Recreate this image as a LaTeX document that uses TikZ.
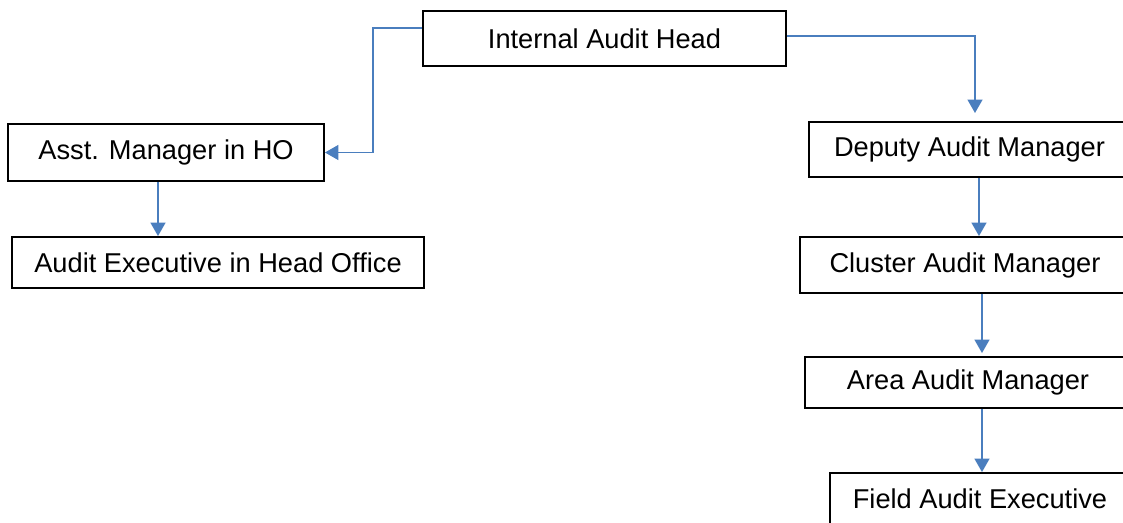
\documentclass[tikz,border=0pt]{standalone}
\usepackage{fontspec}
\setmainfont{Liberation Sans}
\usetikzlibrary{arrows.meta,positioning}
\definecolor{linkblue}{RGB}{74,126,190}

\begin{document}
\begin{tikzpicture}[x=0.02cm,y=-0.02cm,
  box/.style={draw=black,line width=1.1pt,inner sep=0pt,
    font=\fontsize{15.5}{18}\selectfont},
  link/.style={draw=linkblue,line width=0.9pt,
    -{Triangle[length=0.27cm,width=0.3cm]}}]
  \clip (0,0) rectangle (1123,522);
  % left branch
  \node[box,minimum width=7.26cm,minimum height=1.1cm] (head) at (604.5,38.5) {Internal Audit Head};
  \node[box,minimum width=6.32cm,minimum height=1.14cm] (asst) at (166,152.5) {Asst. Manager in HO};
  \node[box,minimum width=8.24cm,minimum height=1.02cm] (aexec) at (218,262.5) {Audit Executive in Head Office};
  % right branch
  \node[box,minimum width=6.42cm,minimum height=1.1cm] (deputy) at (969.5,149.5) {Deputy Audit Manager};
  \node[box,minimum width=6.6cm,minimum height=1.12cm] (cluster) at (965,265) {Cluster Audit Manager};
  \node[box,minimum width=6.52cm,minimum height=1.02cm] (area) at (968,382.5) {Area Audit Manager};
  \node[box,minimum width=6cm,minimum height=1.02cm] (field) at (980,498.5) {Field Audit Executive};

  \coordinate (lbend) at (373,152.5);
  \coordinate (rbend) at (975,113);

  \draw[link] ([yshift=0.21cm]head.west) -| (lbend) -- (asst.east);
  \draw[link] ([yshift=0.05cm]head.east) -| (rbend);
  \draw[link] ([xshift=-0.16cm]asst.south) -- ([xshift=-0.16cm]asst.south |- aexec.north);
  \draw[link] ([xshift=0.19cm]deputy.south) -- ([xshift=0.19cm]deputy.south |- cluster.north);
  \draw[link,shorten >=0.06cm] ([xshift=0.34cm]cluster.south) -- ([xshift=0.34cm]cluster.south |- area.north);
  \draw[link] ([xshift=0.28cm]area.south) -- ([xshift=0.28cm]area.south |- field.north);
\end{tikzpicture}
\end{document}
